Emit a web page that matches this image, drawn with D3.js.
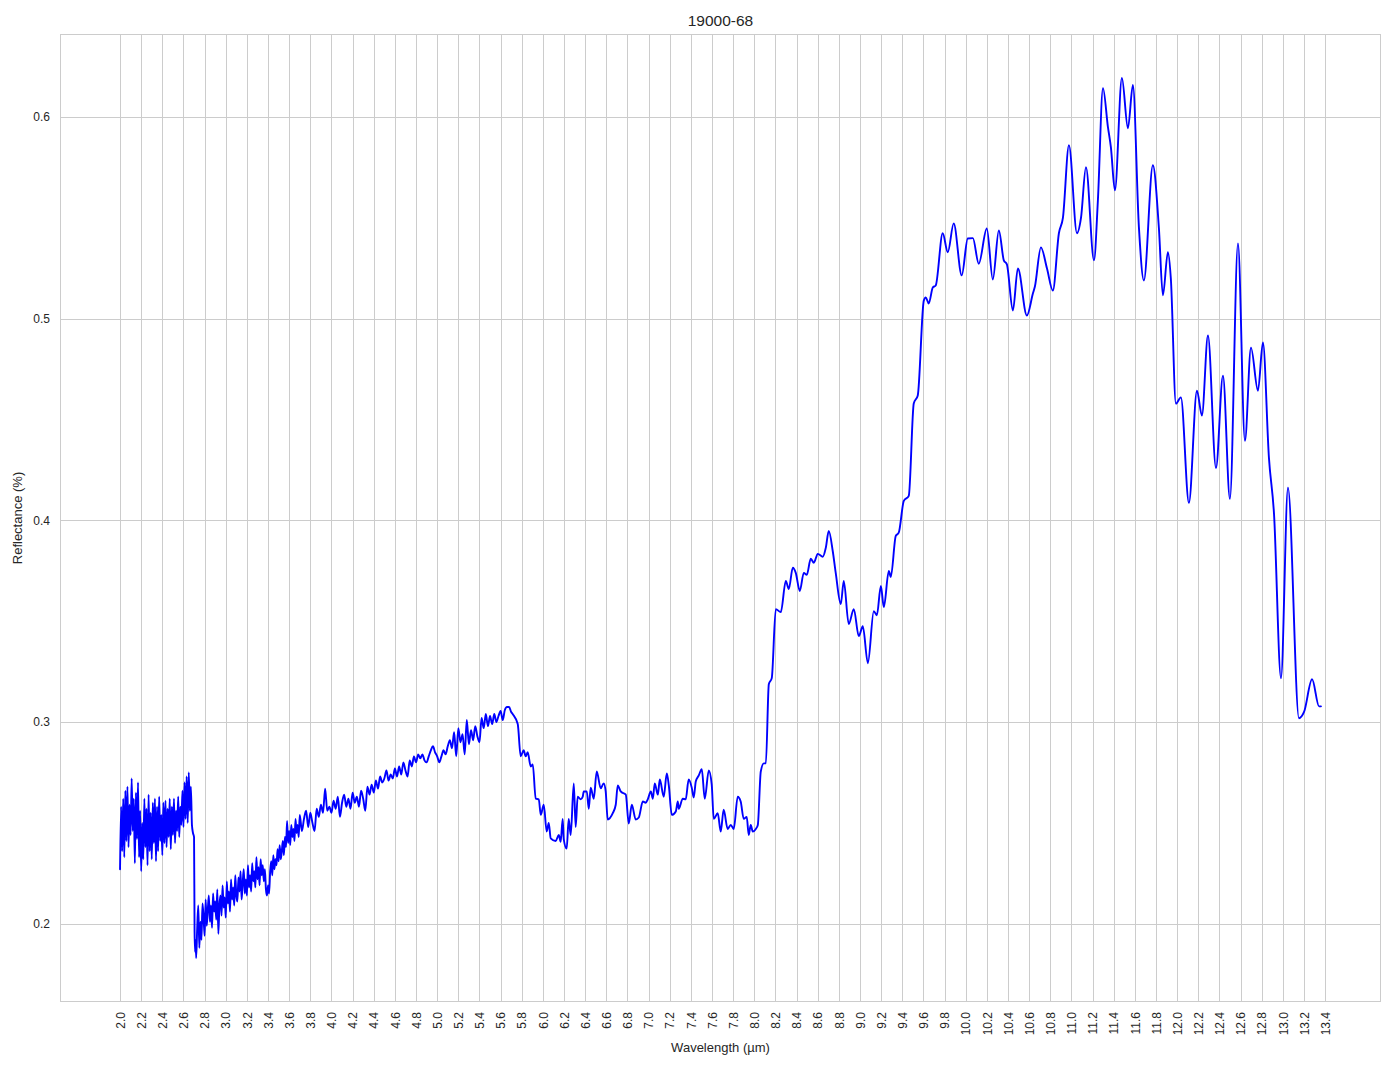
<!DOCTYPE html>
<html>
<head>
<meta charset="utf-8">
<script src="https://cdn.jsdelivr.net/npm/d3@7"></script>
<style>
  html, body { margin: 0; padding: 0; background: #ffffff; }
  svg { display: block; font-family: Arial, "Liberation Sans", Helvetica, sans-serif; }
</style>
</head>
<body>
<svg id="chart" width="1394" height="1069"></svg>
<script>
// ---------------- DATA ----------------
const chartTitle = "19000-68";
const xLabel = "Wavelength (µm)";
const yLabel = "Reflectance (%)";

const xTicks = [2.0,2.2,2.4,2.6,2.8,3.0,3.2,3.4,3.6,3.8,4.0,4.2,4.4,4.6,4.8,5.0,5.2,5.4,5.6,5.8,
  6.0,6.2,6.4,6.6,6.8,7.0,7.2,7.4,7.6,7.8,8.0,8.2,8.4,8.6,8.8,9.0,9.2,9.4,9.6,9.8,
  10.0,10.2,10.4,10.6,10.8,11.0,11.2,11.4,11.6,11.8,12.0,12.2,12.4,12.6,12.8,13.0,13.2,13.4];
const yTicks = [0.2, 0.3, 0.4, 0.5, 0.6];

// Noisy segment 1: 2.00 .. 2.70 µm, sampled every 0.01 µm
const noisy1Start = 2.00, noisy1Step = 0.01;
const noisy1Values = [
  0.227,0.258,0.236,0.262,0.233,0.266,0.241,0.268,0.238,0.259,
  0.244,0.272,0.246,0.262,0.230,0.265,0.242,0.270,0.233,0.256,
  0.226,0.250,0.232,0.262,0.238,0.257,0.229,0.264,0.236,0.255,
  0.232,0.260,0.240,0.262,0.231,0.258,0.236,0.263,0.241,0.254,
  0.234,0.260,0.240,0.261,0.238,0.257,0.243,0.262,0.237,0.258,
  0.244,0.262,0.240,0.256,0.246,0.263,0.243,0.258,0.249,0.266,
  0.248,0.270,0.252,0.273,0.250,0.275,0.256,0.268,0.249,0.245,
  0.243
];

// Sharp drop near 2.7 µm
const dropWavelengths = [2.705, 2.71, 2.715];
const dropValues = [0.196, 0.186, 0.192];

// Noisy segment 2: 2.72 .. 3.70 µm, sampled every 0.01 µm
const noisy2Start = 2.72, noisy2Step = 0.01;
const noisy2Values = [
  0.183,0.198,0.209,0.188,0.201,0.192,0.210,0.203,
  0.194,0.212,0.199,0.207,0.214,0.201,0.209,0.198,0.215,0.206,
  0.211,0.202,0.217,0.195,0.209,0.214,0.204,0.219,0.208,0.213,
  0.203,0.221,0.210,0.216,0.206,0.222,0.212,0.218,0.209,0.224,
  0.214,0.211,0.223,0.216,0.226,0.212,0.220,0.227,0.215,0.222,
  0.214,0.229,0.218,0.224,0.216,0.230,0.221,0.226,0.218,0.233,
  0.222,0.228,0.219,0.232,0.224,0.229,0.221,0.227,0.217,0.214,
  0.219,0.215,0.226,0.231,0.224,0.234,0.227,0.232,0.229,0.237,
  0.231,0.239,0.232,0.236,0.241,0.234,0.243,0.238,0.251,0.240,
  0.246,0.239,0.249,0.243,0.247,0.241,0.252,0.245,0.249,0.243,
  0.254
];

// Noisy segment 3: 3.72 .. 5.70 µm, sampled every 0.02 µm
const noisy3Start = 3.72, noisy3Step = 0.02;
const noisy3Values = [
  0.246,0.252,0.256,0.248,0.255,0.250,0.246,0.257,0.253,0.259,0.255,0.267,0.256,0.258,
  0.255,0.261,0.257,0.263,0.253,0.260,0.264,0.258,0.262,0.257,
  0.265,0.260,0.263,0.258,0.266,0.262,0.256,0.268,0.264,0.269,
  0.265,0.271,0.267,0.273,0.270,0.272,0.276,0.271,0.274,0.272,
  0.277,0.273,0.278,0.274,0.280,0.276,0.273,0.281,0.278,0.283,
  0.280,0.284,0.282,0.284,0.281,0.280,0.283,0.286,0.288,0.285,
  0.283,0.280,0.283,0.286,0.284,0.288,0.291,0.287,0.295,0.283,
  0.297,0.290,0.294,0.284,0.301,0.289,0.296,0.291,0.298,0.293,
  0.290,0.302,0.297,0.304,0.298,0.303,0.299,0.304,0.300,0.303,
  0.3055,0.301,0.306,0.3075,0.3075,0.305
];

// Smooth segment: 5.71 .. 13.36 µm
const smoothWavelengths = [
  5.714,5.762,5.79,5.818,5.837,5.856,5.885,5.904,5.932,5.961,5.98,6.008,6.036,6.055,6.074,6.121,6.15,6.168,6.187,6.197,
  6.225,6.244,6.263,6.292,6.31,6.329,6.358,6.377,6.386,6.415,6.434,6.452,6.481,6.509,6.547,6.575,6.594,6.613,6.661,6.689,
  6.708,6.736,6.784,6.812,6.841,6.878,6.907,6.945,6.973,6.992,7.021,7.04,7.058,7.087,7.106,7.143,7.172,7.191,7.219,7.257,
  7.276,7.285,7.323,7.351,7.379,7.408,7.427,7.446,7.474,7.503,7.531,7.569,7.597,7.616,7.654,7.682,7.71,7.748,7.777,7.805,
  7.843,7.871,7.9,7.928,7.947,7.966,7.985,8.014,8.033,8.061,8.09,8.109,8.137,8.165,8.203,8.25,8.298,8.326,8.364,8.392,
  8.43,8.468,8.496,8.534,8.563,8.6,8.648,8.676,8.704,8.742,8.77,8.818,8.846,8.893,8.941,8.988,9.026,9.074,9.13,9.159,
  9.197,9.225,9.272,9.291,9.338,9.366,9.414,9.461,9.508,9.546,9.603,9.622,9.65,9.688,9.716,9.782,9.83,9.886,9.962,10.019,
  10.067,10.123,10.199,10.256,10.313,10.36,10.389,10.446,10.493,10.578,10.635,10.654,10.711,10.768,10.824,10.881,10.919,10.976,11.052,11.09,
  11.137,11.213,11.25,11.298,11.345,11.373,11.411,11.477,11.534,11.581,11.638,11.685,11.77,11.827,11.865,11.912,11.94,11.988,12.035,12.111,
  12.187,12.234,12.291,12.367,12.433,12.499,12.575,12.641,12.698,12.764,12.811,12.868,12.916,12.982,13.048,13.152,13.2,13.276,13.342,13.36
];
const smoothValues = [
  0.304,0.299,0.283,0.286,0.283,0.285,0.278,0.279,0.262,0.2617,0.254,0.259,0.2457,0.250,0.2423,0.241,0.244,0.2406,0.252,0.242,
  0.2373,0.252,0.244,0.2696,0.248,0.263,0.2617,0.263,0.2656,0.2656,0.257,0.2675,0.262,0.2755,0.2672,0.2696,0.2656,0.2517,0.2548,0.259,
  0.2686,0.2656,0.264,0.2497,0.259,0.2517,0.2527,0.2606,0.26,0.2617,0.2656,0.262,0.2696,0.264,0.2715,0.263,0.2745,0.2686,0.254,0.2557,
  0.2606,0.257,0.262,0.2617,0.2715,0.2675,0.2626,0.2705,0.2735,0.2766,0.262,0.276,0.269,0.252,0.2548,0.2457,0.2566,0.247,0.249,0.247,
  0.263,0.2606,0.252,0.253,0.244,0.249,0.2457,0.247,0.249,0.2755,0.2795,0.2795,0.3188,0.3218,0.356,0.3545,0.37,0.366,0.3765,0.374,
  0.365,0.374,0.373,0.381,0.379,0.3834,0.382,0.3864,0.3948,0.3847,0.374,0.3585,0.370,0.3486,0.356,0.3426,0.3475,0.3292,0.355,0.353,
  0.3675,0.357,0.3749,0.372,0.3923,0.3939,0.4097,0.4122,0.458,0.462,0.509,0.5106,0.5076,0.5155,0.5165,0.5424,0.533,0.5473,0.5215,0.5398,
  0.540,0.5273,0.5448,0.5195,0.5438,0.529,0.527,0.5041,0.525,0.5016,0.5125,0.516,0.5354,0.525,0.514,0.5424,0.550,0.5861,0.5424,0.550,
  0.5752,0.529,0.5588,0.6144,0.595,0.585,0.5637,0.6194,0.5945,0.6159,0.5453,0.519,0.5761,0.545,0.5116,0.533,0.52,0.4579,0.461,0.4087,
  0.4643,0.452,0.4917,0.426,0.4718,0.4107,0.5374,0.4395,0.4857,0.4643,0.4882,0.431,0.4032,0.3217,0.4162,0.3019,0.305,0.3212,0.3078,0.3078
];

// ---------------- BUILD SERIES ----------------
const series = [];
noisy1Values.forEach((v, i) => series.push({ x: noisy1Start + i * noisy1Step, y: v }));
dropWavelengths.forEach((w, i) => series.push({ x: w, y: dropValues[i] }));
noisy2Values.forEach((v, i) => series.push({ x: noisy2Start + i * noisy2Step, y: v }));
noisy3Values.forEach((v, i) => series.push({ x: noisy3Start + i * noisy3Step, y: v }));
smoothWavelengths.forEach((w, i) => series.push({ x: w, y: smoothValues[i] }));

// ---------------- LAYOUT ----------------
const plot = { left: 60, top: 34, right: 1381, bottom: 1002 };
const svg = d3.select("#chart");

const xExt = d3.extent(series, d => d.x);
const yExt = d3.extent(series, d => d.y);
const xPad = (xExt[1] - xExt[0]) * 0.05;
const yPad = (yExt[1] - yExt[0]) * 0.05;

const x = d3.scaleLinear().domain([xExt[0] - xPad, xExt[1] + xPad]).range([plot.left, plot.right]);
const y = d3.scaleLinear().domain([yExt[0] - yPad, yExt[1] + yPad]).range([plot.bottom, plot.top]);

const gridColor = "#cccccc";
const textColor = "#262626";

// Gridlines
svg.append("g").selectAll("line").data(xTicks).join("line")
  .attr("x1", d => Math.round(x(d)) + 0.5).attr("x2", d => Math.round(x(d)) + 0.5)
  .attr("y1", plot.top).attr("y2", plot.bottom)
  .attr("stroke", gridColor).attr("stroke-width", 1);

svg.append("g").selectAll("line").data(yTicks).join("line")
  .attr("x1", plot.left).attr("x2", plot.right)
  .attr("y1", d => Math.round(y(d)) + 0.5).attr("y2", d => Math.round(y(d)) + 0.5)
  .attr("stroke", gridColor).attr("stroke-width", 1);

// Axes (labels only, no tick marks)
const xAxis = d3.axisBottom(x).tickValues(xTicks).tickFormat(d3.format(".1f")).tickSize(0).tickPadding(0);
const xg = svg.append("g").attr("transform", `translate(0,${plot.bottom})`).call(xAxis);
xg.select(".domain").remove();
xg.selectAll("text")
  .attr("fill", textColor)
  .style("font-size", "12px")
  .attr("transform", "rotate(-90)")
  .attr("text-anchor", "end")
  .attr("x", -10)
  .attr("y", 0)
  .attr("dy", "0.35em");

const yAxis = d3.axisLeft(y).tickValues(yTicks).tickFormat(d3.format(".1f")).tickSize(0).tickPadding(10);
const yg = svg.append("g").attr("transform", `translate(${plot.left},0)`).call(yAxis);
yg.select(".domain").remove();
yg.selectAll("text").attr("fill", textColor).style("font-size", "12px");

// Frame (spines)
svg.append("rect")
  .attr("x", plot.left + 0.5).attr("y", plot.top + 0.5)
  .attr("width", plot.right - plot.left - 1).attr("height", plot.bottom - plot.top - 1)
  .attr("fill", "none").attr("stroke", gridColor).attr("stroke-width", 1);

// Line
svg.append("clipPath").attr("id", "plotclip").append("rect")
  .attr("x", plot.left).attr("y", plot.top)
  .attr("width", plot.right - plot.left).attr("height", plot.bottom - plot.top);

const line = d3.line().x(d => x(d.x)).y(d => y(d.y)).curve(d3.curveMonotoneX);
svg.append("path")
  .datum(series)
  .attr("clip-path", "url(#plotclip)")
  .attr("d", line)
  .attr("fill", "none")
  .attr("stroke", "#0000ff")
  .attr("stroke-width", 1.9)
  .attr("stroke-linejoin", "round")
  .attr("stroke-linecap", "round");

// Title and axis labels
svg.append("text")
  .attr("x", (plot.left + plot.right) / 2).attr("y", 26)
  .attr("text-anchor", "middle")
  .attr("fill", textColor)
  .style("font-size", "15.5px")
  .text(chartTitle);

svg.append("text")
  .attr("x", (plot.left + plot.right) / 2).attr("y", 1052)
  .attr("text-anchor", "middle")
  .attr("fill", textColor)
  .style("font-size", "13px")
  .text(xLabel);

svg.append("text")
  .attr("transform", `translate(22,${(plot.top + plot.bottom) / 2}) rotate(-90)`)
  .attr("text-anchor", "middle")
  .attr("fill", textColor)
  .style("font-size", "13px")
  .text(yLabel);
</script>
</body>
</html>
